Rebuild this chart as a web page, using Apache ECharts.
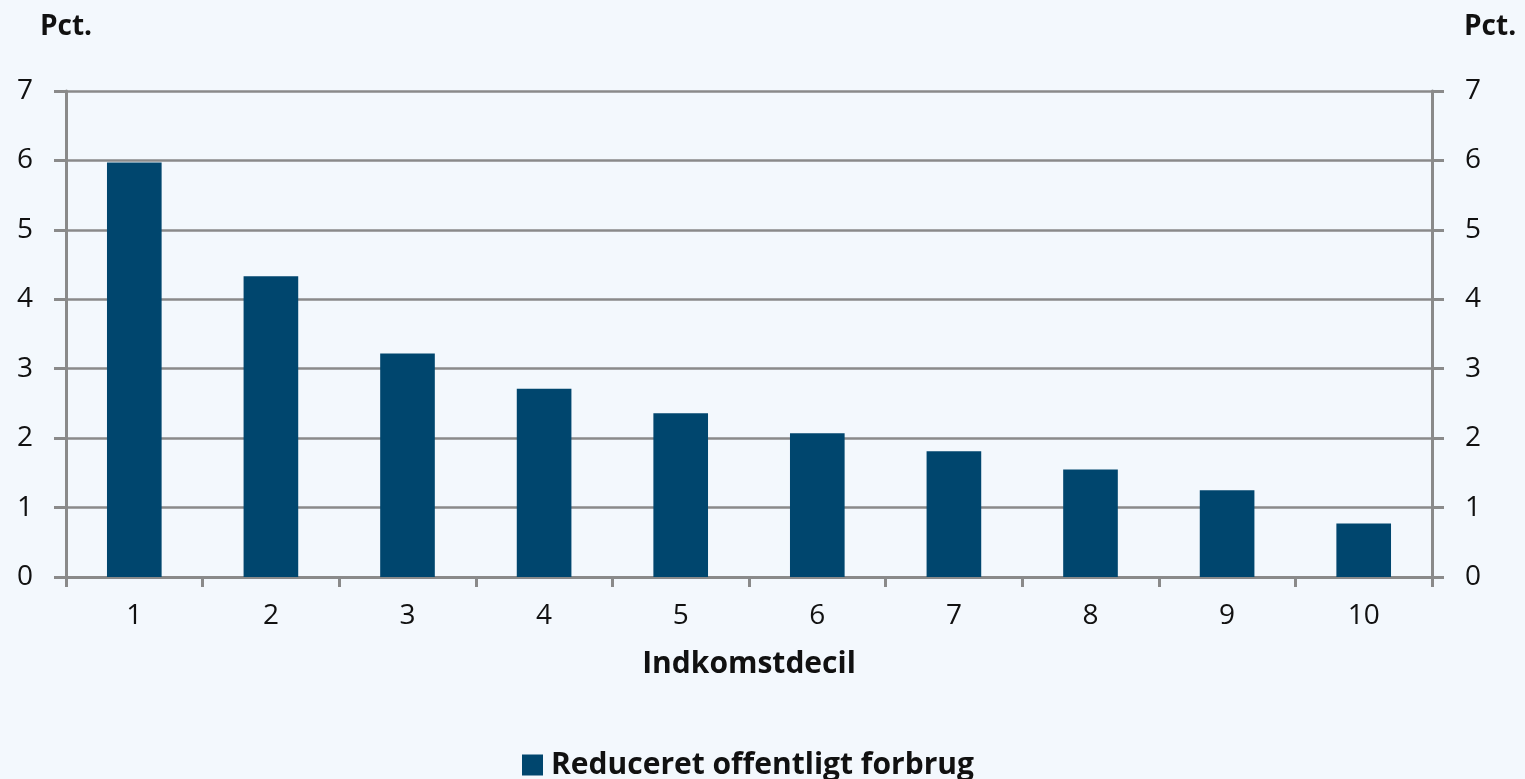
<!DOCTYPE html>
<html>
<head>
<meta charset="utf-8">
<script src="https://cdn.jsdelivr.net/npm/echarts@6/dist/echarts.min.js"></script>
<style>
  html, body { margin: 0; padding: 0; background: #f3f8fd; }
  #chart { width: 1525px; height: 779px; }
</style>
</head>
<body>
<div id="chart"></div>
<script>
const deciles = ['1', '2', '3', '4', '5', '6', '7', '8', '9', '10']
const reducedConsumption = [5.97, 4.33, 3.22, 2.71, 2.36, 2.07, 1.81, 1.55, 1.25, 0.77]
const seriesName = 'Reduceret offentligt forbrug'

const gridGray = '#8a8a8a'
const font = '"Open Sans", Lato, sans-serif'

const chart = echarts.init(document.getElementById('chart'))

function valueAxis(pos) {
  return {
    type: 'value',
    position: pos,
    min: 0,
    max: 7,
    interval: 1,
    name: 'Pct.',
    nameLocation: 'end',
    nameGap: 50,
    nameTextStyle: {
      fontFamily: font,
      fontSize: 28,
      fontWeight: 'bold',
      color: '#111',
      align: pos === 'left' ? 'center' : 'left',
      padding: pos === 'left' ? [0, 0, 0, 0] : [0, 0, 0, 32],
    },
    axisLine: { show: true, lineStyle: { color: gridGray, width: 3 } },
    axisTick: { show: true, length: 12, lineStyle: { color: gridGray, width: 3 } },
    axisLabel: { fontFamily: font, fontSize: 28, color: '#111', margin: 33 },
    splitLine: { show: pos === 'left', lineStyle: { color: gridGray, width: 2.5 } },
  }
}

chart.setOption({
  backgroundColor: '#f3f8fd',
  animation: false,
  grid: { left: 66, right: 93, top: 91, bottom: 202, outerBoundsMode: 'none' },
  legend: {
    top: 745,
    left: 517,
    itemWidth: 21,
    itemHeight: 21,
    itemGap: 8,
    icon: 'rect',
    textStyle: { fontFamily: font, fontSize: 30, fontWeight: 'bold', color: '#111', padding: [0, 0, 0, 3] },
    data: [seriesName],
  },
  xAxis: {
    type: 'category',
    data: deciles,
    name: 'Indkomstdecil',
    nameLocation: 'middle',
    nameGap: 72,
    nameTextStyle: { fontFamily: font, fontSize: 30, fontWeight: 'bold', color: '#111' },
    axisLine: { lineStyle: { color: gridGray, width: 3 } },
    axisTick: { show: true, length: 10, lineStyle: { color: gridGray, width: 3 } },
    axisLabel: { fontFamily: font, fontSize: 28, color: '#111', margin: 25 },
  },
  yAxis: [valueAxis('left'), valueAxis('right')],
  series: [
    {
      name: seriesName,
      type: 'bar',
      data: reducedConsumption,
      barWidth: '40%',
      itemStyle: { color: '#00466e' },
    },
  ],
})
</script>
</body>
</html>
